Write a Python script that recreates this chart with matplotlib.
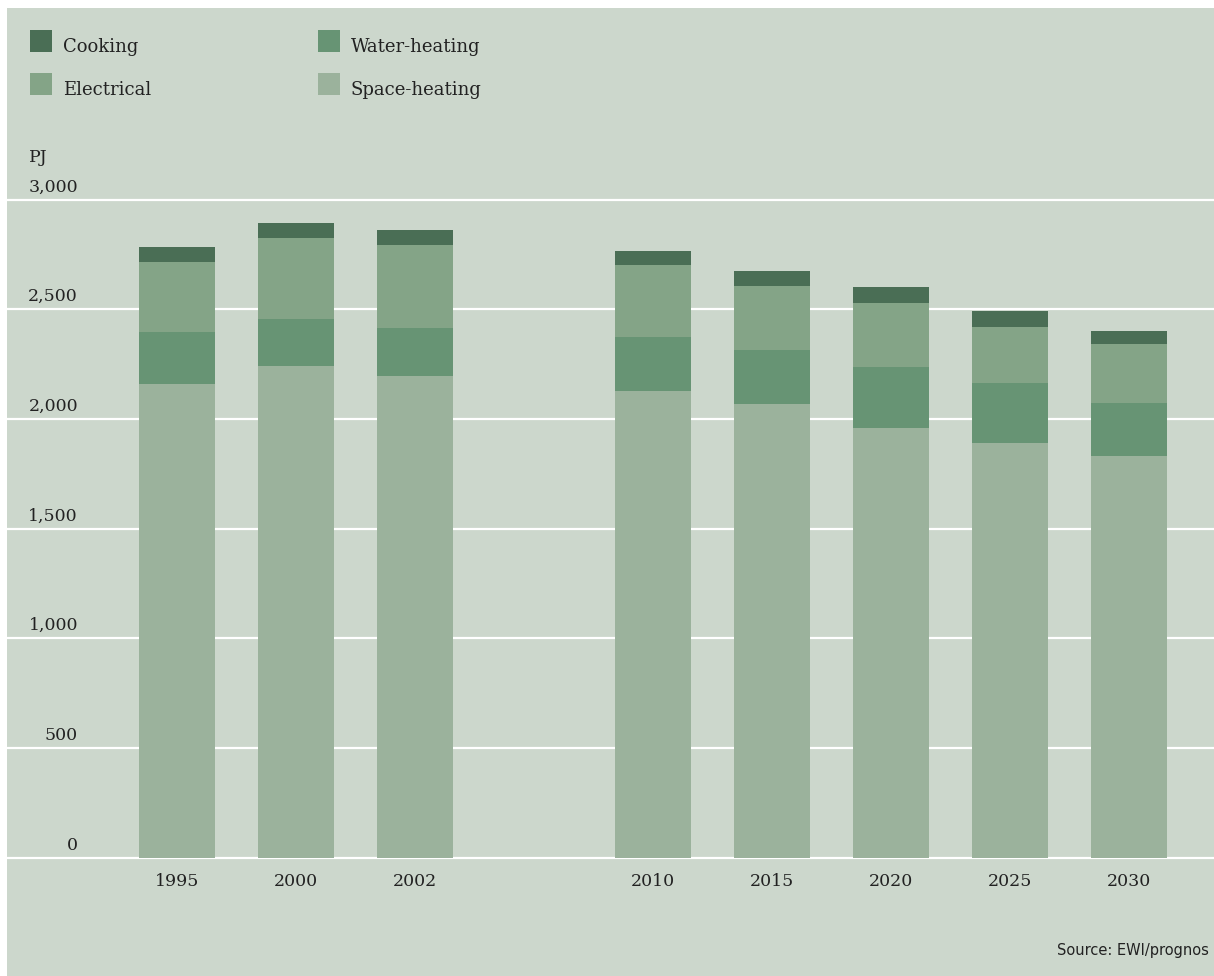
import matplotlib
matplotlib.use("Agg")
import matplotlib.pyplot as plt
from matplotlib.patches import Rectangle
import numpy as np

# Residential final energy demand by purpose, PJ
years = ["1995", "2000", "2002", "2010", "2015", "2020", "2025", "2030"]
slots = [0, 1, 2, 4, 5, 6, 7, 8]  # gap between historic and projected years

space_heating = [2159, 2241, 2195, 2127, 2068, 1958, 1890, 1831]
water_heating = [237, 214, 219, 246, 246, 278, 273, 241]
electrical = [319, 369, 379, 328, 292, 292, 256, 269]
cooking = [68, 69, 68, 64, 68, 73, 73, 59]

series_names = ["Space-heating", "Water-heating", "Electrical", "Cooking"]
series_colors = ["#9bb29c", "#679474", "#84a487", "#4a6e55"]

y_ticks = [0, 500, 1000, 1500, 2000, 2500, 3000]
y_tick_labels = ["0", "500", "1,000", "1,500", "2,000", "2,500", "3,000"]

W, H = 1214, 976
BG = "#ccd7cc"
TXT = "#222222"
SERIF = "DejaVu Serif"

fig = plt.figure(figsize=(W / 100, H / 100), dpi=100, facecolor="white")

def fx(px):
    return px / W

def fy(py):
    return 1 - py / H

# panel background with a thin white margin on top and left
fig.patches.append(Rectangle((fx(7), 0), 1 - fx(7), fy(8), transform=fig.transFigure,
                             facecolor=BG, edgecolor="none", zorder=-10))

# axes spanning the full panel width
ax_left, ax_right = 7, 1214
ax_top, ax_bot = 190, 880
ax = fig.add_axes([fx(ax_left), fy(ax_bot), fx(ax_right - ax_left), (ax_bot - ax_top) / H])
ax.set_zorder(1)
ax.set_facecolor("none")
for s in ax.spines.values():
    s.set_visible(False)

# scale: 0 at y=857.5 px, 3000 at y=199.5 px
ppu = (857.5 - 199.5) / 3000.0
ax.set_ylim((857.5 - ax_bot) / ppu, (857.5 - ax_top) / ppu)
slot_px = 119.0
first_px = 177.0
ax.set_xlim((ax_left - first_px) / slot_px, (ax_right - first_px) / slot_px)

ax.set_yticks(y_ticks)
ax.set_yticklabels([])
ax.set_xticks([])
ax.tick_params(left=False, bottom=False)
ax.grid(axis="y", color="white", linewidth=1.6)
ax.set_axisbelow(True)

# stacked bars
bottom = np.zeros(len(years))
for vals, name, col in zip([space_heating, water_heating, electrical, cooking],
                           series_names, series_colors):
    ax.bar(slots, vals, width=0.64, bottom=bottom, color=col, label=name,
           linewidth=0, zorder=2)
    bottom += np.array(vals)

# y tick labels sit just above their grid lines
off = 8 / ppu
for v, lab in zip(y_ticks, y_tick_labels):
    ax.text((78 - first_px) / slot_px, v + off, lab, ha="right", va="baseline",
            fontsize=12.5, family=SERIF, color=TXT)

# year labels under the bars
for x, lab in zip(slots, years):
    ax.text(x, -(881 - 857.5) / ppu, lab, ha="center", va="center",
            fontsize=12.5, family=SERIF, color=TXT)

# unit label
fig.text(fx(29), fy(162), "PJ", ha="left", va="baseline", fontsize=12.5,
         family=SERIF, color=TXT)

# legend in two columns
legend_order = ["Cooking", "Water-heating", "Electrical", "Space-heating"]
legend_pos = [(30, 30), (318, 30), (30, 73), (318, 73)]
for name, (lx, ly) in zip(legend_order, legend_pos):
    col = series_colors[series_names.index(name)]
    fig.patches.append(Rectangle((fx(lx), fy(ly + 22)), fx(22), 22 / H,
                                 transform=fig.transFigure, facecolor=col,
                                 edgecolor="none", zorder=3))
    fig.text(fx(lx + 33), fy(ly + 22), name, ha="left", va="baseline",
             fontsize=13, family=SERIF, color=TXT)

# source note
fig.text(fx(1209), fy(955), "Source: EWI/prognos", ha="right", va="baseline",
         fontsize=10.5, family=["Liberation Sans Narrow", "DejaVu Sans"], color=TXT)

fig.savefig("out.png", dpi=100, facecolor="white")
